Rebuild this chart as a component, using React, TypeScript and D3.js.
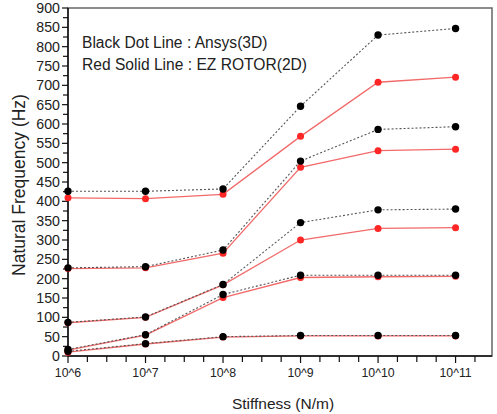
import * as d3 from 'd3';
import React from 'react';

// stiffness as log10 exponent (10^6 ... 10^11)
const exponents = [6, 7, 8, 9, 10, 11];
const xTickLabels = ["10^6", "10^7", "10^8", "10^9", "10^10", "10^11"];
const yTicks = [0, 50, 100, 150, 200, 250, 300, 350, 400, 450, 500, 550, 600, 650, 700, 750, 800, 850, 900];

// Ansys (3D) - black dotted
const ansys1 = [12, 32, 50, 53, 53, 53];
const ansys2 = [17, 55, 159, 209, 209, 209];
const ansys3 = [87, 101, 185, 345, 378, 380];
const ansys4 = [228, 231, 274, 504, 586, 593];
const ansys5 = [426, 426, 432, 646, 830, 847];

// EZ ROTOR (2D) - red solid
const ez1 = [10, 31, 49, 52, 52, 52];
const ez2 = [15, 54, 151, 203, 205, 206];
const ez3 = [86, 100, 184, 300, 330, 332];
const ez4 = [226, 228, 266, 488, 531, 535];
const ez5 = [409, 407, 418, 568, 708, 721];

const ansysModes = [ansys1, ansys2, ansys3, ansys4, ansys5];
const ezModes = [ez1, ez2, ez3, ez4, ez5];

const legendLines = ["Black Dot Line : Ansys(3D)", "Red Solid Line : EZ ROTOR(2D)"];

function App() {
    const ref = React.useRef<SVGSVGElement>(null);

    React.useEffect(() => {
        const width = 497, height = 414;
        const left = 68, right = 492, top = 8, bottom = 356;
        const font = "'Liberation Sans', Arial, sans-serif";

        const svg = d3.select(ref.current);
        svg.selectAll("*").remove();

        const x = d3.scaleLinear().domain([6, 11.47]).range([left, right]);
        const y = d3.scaleLinear().domain([0, 900]).range([bottom, top]);

        svg.append("rect")
            .attr("width", width).attr("height", height).attr("fill", "white");

        // frame
        svg.append("rect")
            .attr("x", left).attr("y", top)
            .attr("width", right - left).attr("height", bottom - top)
            .attr("fill", "none").attr("stroke", "#666").attr("stroke-width", 1.5);

        // y axis
        const yMinor = d3.range(0, 901, 25);
        svg.append("g").selectAll("line").data(yMinor).join("line")
            .attr("x1", d => left - (d % 50 === 0 ? 6 : 5)).attr("x2", left)
            .attr("y1", d => y(d)).attr("y2", d => y(d))
            .attr("stroke", "#111").attr("stroke-width", 1.2);
        svg.append("g").selectAll("text").data(yTicks).join("text")
            .attr("x", left - 8).attr("y", d => y(d))
            .attr("dy", "0.36em")
            .attr("text-anchor", "end")
            .attr("font-family", font).attr("font-size", 14.2).attr("fill", "#222")
            .text(d => d);

        // x axis
        const xMinor = d3.range(6, 11.5, 0.25);
        svg.append("g").selectAll("line").data(xMinor).join("line")
            .attr("x1", d => x(d)).attr("x2", d => x(d))
            .attr("y1", bottom).attr("y2", d => bottom + (Number.isInteger(d) ? 7 : 6))
            .attr("stroke", "#111").attr("stroke-width", 1.2);
        svg.append("g").selectAll("text").data(exponents).join("text")
            .attr("x", d => x(d)).attr("y", bottom + 21)
            .attr("text-anchor", "middle")
            .attr("font-family", font).attr("font-size", 12.3).attr("fill", "#222")
            .text((d, i) => xTickLabels[i]);

        svg.append("line")
            .attr("x1", left).attr("x2", left).attr("y1", top).attr("y2", bottom)
            .attr("stroke", "#111").attr("stroke-width", 1.5);
        svg.append("line")
            .attr("x1", left).attr("x2", right).attr("y1", bottom).attr("y2", bottom)
            .attr("stroke", "#111").attr("stroke-width", 1.5);

        // axis titles
        svg.append("text")
            .attr("x", (left + right) / 2 + 3).attr("y", 409)
            .attr("text-anchor", "middle")
            .attr("font-family", font).attr("font-size", 15.5).attr("fill", "#222")
            .text("Stiffness (N/m)");
        svg.append("text")
            .attr("transform", "translate(25,185) rotate(-90)")
            .attr("text-anchor", "middle")
            .attr("font-family", font).attr("font-size", 17.5).attr("fill", "#222")
            .text("Natural Frequency (Hz)");

        const line = d3.line<number>()
            .x((d, i) => x(exponents[i]))
            .y(d => y(d));

        // red solid (EZ ROTOR)
        const red = svg.append("g");
        red.selectAll("path").data(ezModes).join("path")
            .attr("d", d => line(d))
            .attr("fill", "none").attr("stroke", "#f26a6a").attr("stroke-width", 1.3);
        ezModes.forEach(mode => {
            red.append("g").selectAll("circle").data(mode).join("circle")
                .attr("cx", (d, i) => x(exponents[i])).attr("cy", d => y(d))
                .attr("r", 3.5).attr("fill", "#ff2626");
        });

        // black dotted (Ansys)
        const black = svg.append("g");
        black.selectAll("path").data(ansysModes).join("path")
            .attr("d", d => line(d))
            .attr("fill", "none").attr("stroke", "#555")
            .attr("stroke-width", 1.1).attr("stroke-dasharray", "2,2");
        ansysModes.forEach(mode => {
            black.append("g").selectAll("circle").data(mode).join("circle")
                .attr("cx", (d, i) => x(exponents[i])).attr("cy", d => y(d))
                .attr("r", 3.7).attr("fill", "#000");
        });

        // legend text
        svg.append("g").selectAll("text").data(legendLines).join("text")
            .attr("x", 82).attr("y", (d, i) => 48 + i * 22)
            .attr("font-family", font).attr("font-size", 15.6).attr("fill", "#222")
            .text(d => d);
    }, []);

    return (
        <svg ref={ref} width={497} height={414}
            style={{ position: "absolute", left: 0, top: 0, display: "block" }} />
    );
}

export default App;
